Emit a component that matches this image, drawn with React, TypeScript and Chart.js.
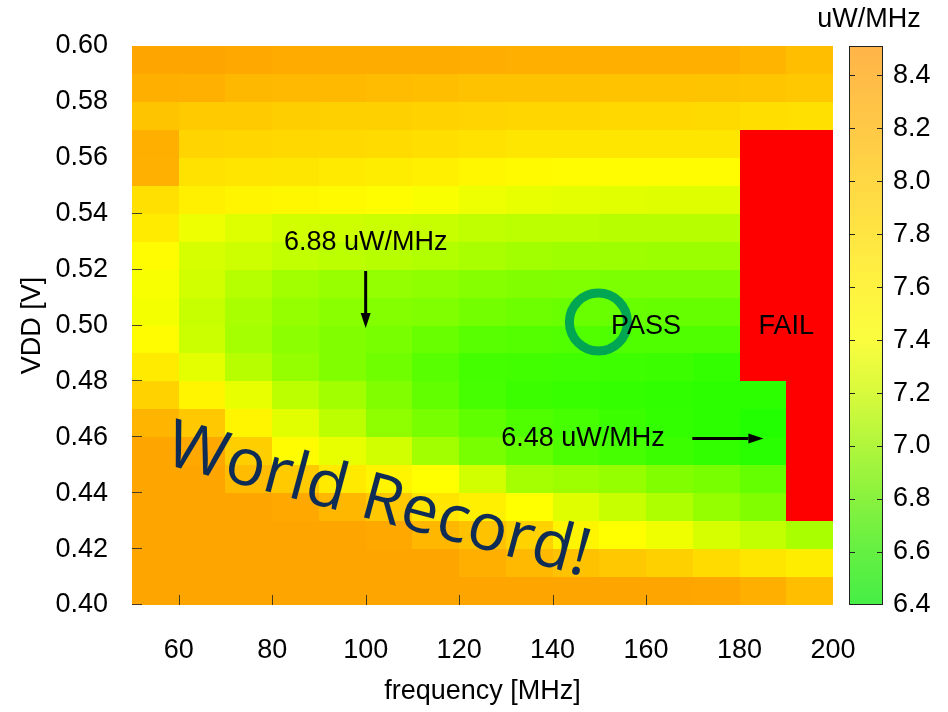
import React, { useEffect, useRef } from "react";
import { Chart, registerables } from "chart.js";

Chart.register(...registerables);

// ---------------- data ----------------
// cell centres
const frequencyMHz = [55, 65, 75, 85, 95, 105, 115, 125, 135, 145, 155, 165, 175, 185, 195];
const vddV = [0.595, 0.585, 0.575, 0.565, 0.555, 0.545, 0.535, 0.525, 0.515, 0.505, 0.495, 0.485, 0.475, 0.465, 0.455, 0.445, 0.435, 0.425, 0.415, 0.405];
const cellWidthMHz = 10;
const cellHeightV = 0.01;

// energy per cycle [uW/MHz], one list per VDD row (top to bottom); null = FAIL
const e0595 = [8.5, 8.5, 8.45, 8.43, 8.42, 8.42, 8.42, 8.4, 8.38, 8.38, 8.38, 8.38, 8.38, 8.32, 8.2];
const e0585 = [8.38, 8.36, 8.27, 8.25, 8.24, 8.22, 8.2, 8.15, 8.14, 8.14, 8.13, 8.13, 8.12, 8.1, 8.07];
const e0575 = [8.12, 8.05, 8.03, 8.0, 7.98, 7.97, 7.95, 7.92, 7.9, 7.9, 7.88, 7.88, 7.85, 7.8, 7.78];
const e0565 = [8.38, 7.92, 7.9, 7.88, 7.86, 7.84, 7.8, 7.76, 7.7, 7.7, 7.7, 7.7, 7.7, null, null];
const e0555 = [8.36, 7.75, 7.72, 7.7, 7.66, 7.62, 7.58, 7.5, 7.46, 7.45, 7.45, 7.45, 7.45, null, null];
const e0545 = [7.78, 7.58, 7.52, 7.5, 7.46, 7.42, 7.38, 7.32, 7.3, 7.28, 7.27, 7.26, 7.26, null, null];
const e0535 = [7.64, 7.32, 7.25, 7.2, 7.18, 7.16, 7.15, 7.12, 7.1, 7.1, 7.08, 7.08, 7.08, null, null];
const e0525 = [7.45, 7.22, 7.18, 7.13, 7.1, 7.08, 7.06, 7.02, 6.98, 6.97, 6.97, 6.96, 6.96, null, null];
const e0515 = [7.37, 7.2, 7.07, 6.98, 6.94, 6.92, 6.9, 6.86, 6.84, 6.83, 6.82, 6.82, 6.82, null, null];
const e0505 = [7.35, 7.15, 7.02, 6.93, 6.88, 6.85, 6.83, 6.78, 6.75, 6.74, 6.73, 6.72, 6.72, null, null];
const e0495 = [7.45, 7.17, 7.0, 6.89, 6.84, 6.8, 6.73, 6.66, 6.64, 6.63, 6.62, 6.62, 6.62, null, null];
const e0485 = [7.64, 7.28, 7.08, 6.93, 6.84, 6.76, 6.66, 6.57, 6.56, 6.55, 6.54, 6.53, 6.5, null, null];
const e0475 = [7.95, 7.52, 7.3, 7.1, 6.98, 6.84, 6.7, 6.58, 6.53, 6.51, 6.5, 6.48, 6.46, 6.46, null];
const e0465 = [8.3, 8.07, 7.52, 7.27, 7.1, 6.9, 6.8, 6.69, 6.62, 6.58, 6.53, 6.49, 6.46, 6.42, null];
const e0455 = [8.5, 8.45, 8.0, 7.45, 7.3, 7.2, 6.98, 6.8, 6.72, 6.62, 6.58, 6.53, 6.49, 6.45, null];
const e0445 = [8.5, 8.5, 8.22, 8.05, 7.66, 7.52, 7.4, 7.2, 7.0, 6.97, 6.93, 6.84, 6.8, 6.71, null];
const e0435 = [8.5, 8.5, 8.5, 8.45, 8.28, 8.07, 7.72, 7.6, 7.4, 7.26, 7.15, 7.04, 6.93, 6.84, null];
const e0425 = [8.5, 8.5, 8.5, 8.5, 8.5, 8.45, 8.28, 8.15, 7.95, 7.52, 7.4, 7.33, 7.22, 7.13, 7.02];
const e0415 = [8.5, 8.5, 8.5, 8.5, 8.5, 8.5, 8.5, 8.38, 8.26, 8.15, 8.07, 7.97, 7.84, 7.7, 7.62];
const e0405 = [8.5, 8.5, 8.5, 8.5, 8.5, 8.5, 8.5, 8.5, 8.5, 8.5, 8.5, 8.5, 8.47, 8.38, 8.2];

const energyRows = [
  e0595, e0585, e0575, e0565, e0555, e0545, e0535, e0525, e0515, e0505,
  e0495, e0485, e0475, e0465, e0455, e0445, e0435, e0425, e0415, e0405,
];

const xTickValues = [60, 80, 100, 120, 140, 160, 180, 200];
const yTickValues = [0.4, 0.42, 0.44, 0.46, 0.48, 0.5, 0.52, 0.54, 0.56, 0.58, 0.6];
const xTickMarks = [60, 80, 100, 120, 140, 160];
const yTickMarks = [0.4, 0.42, 0.44, 0.46, 0.48, 0.5, 0.52, 0.54];
const colorbarTickValues = [6.4, 6.6, 6.8, 7.0, 7.2, 7.4, 7.6, 7.8, 8.0, 8.2, 8.4];
const colorbarMin = 6.4;
const colorbarMax = 8.51;

const noteTexts = [
  { text: "6.88 uW/MHz", x: 100, y: 0.5297 },
  { text: "PASS", x: 160, y: 0.4997 },
  { text: "FAIL", x: 190, y: 0.4997 },
  { text: "6.48 uW/MHz", x: 146.5, y: 0.4596 },
];
const noteArrows = [
  { x0: 100, y0: 0.5195, x1: 100, y1: 0.4991 },
  { x0: 169.9, y0: 0.4596, x1: 185.1, y1: 0.4596 },
];
const passMarker = { x: 149.8, y: 0.50125 };
const banner = { text: "World Record!", x: 56.6, y: 0.4506, angleDeg: 15 };

// ---------------- styles ----------------
const FONT = '"Liberation Sans", Arial, Helvetica, sans-serif';
const FS = 27;
const FAIL_COLOR = "rgb(255,0,0)";
const cbStops: [number, string][] = [
  [6.4, "rgb(70,238,70)"],
  [6.6, "rgb(100,240,66)"],
  [6.8, "rgb(136,242,62)"],
  [7.0, "rgb(176,246,60)"],
  [7.2, "rgb(216,250,60)"],
  [7.4, "rgb(250,253,62)"],
  [7.6, "rgb(255,243,64)"],
  [7.8, "rgb(255,229,66)"],
  [8.0, "rgb(255,215,68)"],
  [8.2, "rgb(255,201,70)"],
  [8.51, "rgb(255,180,72)"],
];

function energyColor(v: number): string {
  if (v <= 7.4) {
    const t = Math.max(0, (v - 6.4) / 1.0);
    return `rgb(${Math.round(30 + 225 * t)},255,0)`;
  }
  const t = Math.min(1, (v - 7.4) / 1.1);
  return `rgb(255,${Math.round(255 - 90 * t)},0)`;
}

function drawArrow(ctx: CanvasRenderingContext2D, x0: number, y0: number, x1: number, y1: number) {
  const ang = Math.atan2(y1 - y0, x1 - x0);
  const head = 15;
  const half = 5;
  const bx = x1 - head * Math.cos(ang);
  const by = y1 - head * Math.sin(ang);
  ctx.strokeStyle = "#000";
  ctx.fillStyle = "#000";
  ctx.lineWidth = 3;
  ctx.beginPath();
  ctx.moveTo(x0, y0);
  ctx.lineTo(bx, by);
  ctx.stroke();
  ctx.beginPath();
  ctx.moveTo(x1, y1);
  ctx.lineTo(bx + half * Math.sin(ang), by - half * Math.cos(ang));
  ctx.lineTo(bx - half * Math.sin(ang), by + half * Math.cos(ang));
  ctx.closePath();
  ctx.fill();
}

const heatmapPlugin = {
  id: "heatmapCells",
  beforeDatasetsDraw(chart: any) {
    const { ctx } = chart;
    const xs = chart.scales.x;
    const ys = chart.scales.y;
    const cells = chart.data.datasets[0].data as any[];
    ctx.save();
    for (const c of cells) {
      const l = Math.round(xs.getPixelForValue(c.x - cellWidthMHz / 2));
      const r = Math.round(xs.getPixelForValue(c.x + cellWidthMHz / 2));
      const t = Math.round(ys.getPixelForValue(c.y + cellHeightV / 2));
      const b = Math.round(ys.getPixelForValue(c.y - cellHeightV / 2));
      ctx.fillStyle = c.v == null ? FAIL_COLOR : energyColor(c.v);
      ctx.fillRect(l, t, r - l, b - t);
    }
    ctx.restore();
  },
  afterDatasetsDraw(chart: any) {
    const { ctx, chartArea } = chart;
    const xs = chart.scales.x;
    const ys = chart.scales.y;
    ctx.save();
    // inner tick marks
    ctx.strokeStyle = "rgba(40,40,40,0.85)";
    ctx.lineWidth = 1;
    for (const v of yTickMarks) {
      const py = Math.round(ys.getPixelForValue(v)) - 0.5;
      ctx.beginPath();
      ctx.moveTo(chartArea.left, py);
      ctx.lineTo(chartArea.left + 10, py);
      ctx.stroke();
    }
    for (const v of xTickMarks) {
      const px = Math.round(xs.getPixelForValue(v)) + 0.5;
      ctx.beginPath();
      ctx.moveTo(px, chartArea.bottom);
      ctx.lineTo(px, chartArea.bottom - 10);
      ctx.stroke();
    }

    // PASS marker
    ctx.strokeStyle = "#00A651";
    ctx.lineWidth = 9;
    ctx.beginPath();
    ctx.arc(xs.getPixelForValue(passMarker.x), ys.getPixelForValue(passMarker.y), 29, 0, Math.PI * 2);
    ctx.stroke();

    // texts
    ctx.fillStyle = "#000";
    ctx.font = `${FS}px ${FONT}`;
    ctx.textAlign = "center";
    ctx.textBaseline = "middle";
    for (const n of noteTexts) {
      ctx.fillText(n.text, xs.getPixelForValue(n.x), ys.getPixelForValue(n.y));
    }
    for (const a of noteArrows) {
      drawArrow(ctx, xs.getPixelForValue(a.x0), ys.getPixelForValue(a.y0), xs.getPixelForValue(a.x1), ys.getPixelForValue(a.y1));
    }

    // banner
    ctx.translate(xs.getPixelForValue(banner.x), ys.getPixelForValue(banner.y));
    ctx.rotate((banner.angleDeg * Math.PI) / 180);
    ctx.font = '66px "Open Sans", "Noto Sans", sans-serif';
    ctx.fillStyle = "#0E2C55";
    ctx.textAlign = "left";
    ctx.textBaseline = "alphabetic";
    ctx.fillText(banner.text, 0, 0);
    ctx.restore();
  },
  afterDraw(chart: any) {
    const { ctx } = chart;
    const cb = chart.scales.yc;
    const left = cb.left + 16;
    const right = cb.left + 50;
    const top = cb.getPixelForValue(colorbarMax);
    const bottom = cb.getPixelForValue(colorbarMin);
    ctx.save();
    const g = ctx.createLinearGradient(0, bottom, 0, top);
    for (const [v, c] of cbStops) {
      g.addColorStop((v - colorbarMin) / (colorbarMax - colorbarMin), c);
    }
    ctx.fillStyle = g;
    ctx.fillRect(left, top, right - left, bottom - top);
    ctx.strokeStyle = "#222";
    ctx.lineWidth = 1;
    ctx.strokeRect(left + 0.5, top + 0.5, right - left - 1, bottom - top - 1);
    for (const v of colorbarTickValues) {
      if (v <= colorbarMin) continue;
      const py = Math.round(cb.getPixelForValue(v)) + 0.5;
      ctx.beginPath();
      ctx.moveTo(left, py);
      ctx.lineTo(left + 6, py);
      ctx.moveTo(right - 6, py);
      ctx.lineTo(right, py);
      ctx.stroke();
    }
    ctx.fillStyle = "#000";
    ctx.font = `${FS}px ${FONT}`;
    ctx.textAlign = "center";
    ctx.textBaseline = "middle";
    ctx.fillText("uW/MHz", (left + right) / 2 + 3, 20);
    ctx.restore();
  },
};

const noEdgePadding = (s: any) => {
  s.paddingTop = 0;
  s.paddingBottom = 0;
};

export default function App() {
  const canvasRef = useRef<HTMLCanvasElement | null>(null);

  useEffect(() => {
    const canvas = canvasRef.current;
    if (!canvas) return;
    const cells: { x: number; y: number; v: number | null }[] = [];
    vddV.forEach((vy, i) => {
      frequencyMHz.forEach((fx, j) => {
        cells.push({ x: fx, y: vy, v: energyRows[i][j] });
      });
    });

    const tickFont = { family: FONT, size: FS };
    const chart = new Chart(canvas, {
      type: "scatter",
      data: {
        datasets: [
          {
            label: "energy",
            data: cells as any,
            pointRadius: 0,
            pointHoverRadius: 0,
            showLine: false,
          },
        ],
      },
      plugins: [heatmapPlugin as any],
      options: {
        animation: false,
        responsive: false,
        events: [],
        layout: { padding: { top: 46, left: 0, right: 0, bottom: 0 } },
        plugins: {
          legend: { display: false },
          tooltip: { enabled: false },
          title: { display: false },
        },
        scales: {
          x: {
            type: "linear",
            position: "bottom",
            min: 50,
            max: 200,
            afterBuildTicks: (s: any) => {
              s.ticks = xTickValues.map((v) => ({ value: v }));
            },
            afterFit: (s: any) => {
              s.height = 107;
            },
            grid: { display: false, drawTicks: false },
            border: { display: false },
            ticks: {
              color: "#000",
              font: tickFont,
              padding: 29,
              autoSkip: false,
              maxRotation: 0,
              callback: (v: any) => String(v),
            },
            title: {
              display: true,
              text: "frequency [MHz]",
              color: "#000",
              font: tickFont,
              padding: { top: 0, bottom: 4 },
            },
          },
          y: {
            type: "linear",
            position: "left",
            min: 0.4,
            max: 0.6,
            afterBuildTicks: (s: any) => {
              s.ticks = yTickValues.map((v) => ({ value: v }));
            },
            afterFit: (s: any) => {
              s.width = 132;
              noEdgePadding(s);
            },
            grid: { display: false, drawTicks: false },
            border: { display: false },
            ticks: {
              color: "#000",
              font: tickFont,
              padding: 24,
              autoSkip: false,
              callback: (v: any) => Number(v).toFixed(2),
            },
            title: {
              display: true,
              text: "VDD [V]",
              color: "#000",
              font: tickFont,
              padding: { top: 16, bottom: 0 },
            },
          },
          yc: {
            type: "linear",
            position: "right",
            min: colorbarMin,
            max: colorbarMax,
            afterBuildTicks: (s: any) => {
              s.ticks = colorbarTickValues.map((v) => ({ value: v }));
            },
            afterFit: (s: any) => {
              s.width = 115;
              noEdgePadding(s);
            },
            grid: { display: false, drawTicks: false },
            border: { display: false },
            ticks: {
              color: "#000",
              font: tickFont,
              padding: 60,
              autoSkip: false,
              callback: (v: any) => Number(v).toFixed(1),
            },
          },
        },
      },
    });
    return () => chart.destroy();
  }, []);

  return (
    <div style={{ position: "fixed", left: 0, top: 0, width: 948, height: 712, background: "#fff" }}>
      <canvas ref={canvasRef} width={948} height={712} style={{ display: "block" }} />
    </div>
  );
}
